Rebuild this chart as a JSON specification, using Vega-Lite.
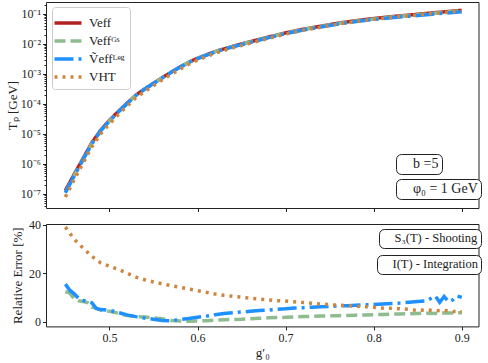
{
 "$schema": "https://vega.github.io/schema/vega-lite/v6.json",
 "padding": {"left": 5, "top": 1, "right": 0, "bottom": 0},
 "background": "white",
 "bounds": "flush",
 "spacing": 16,
 "config": {
  "view": {"stroke": "#222", "strokeWidth": 1},
  "font": "Liberation Serif",
  "axis": {"domain": false, "tickColor": "#222", "labelColor": "#222", "titleColor": "#222", "labelFont": "Liberation Serif", "titleFont": "Liberation Serif", "labelFontSize": 12, "titleFontSize": 13, "titleFontWeight": "normal", "grid": false, "tickSize": 3.5, "labelPadding": 2},
  "legend": {"labelFont": "Liberation Serif", "labelColor": "#222"}
 },
 "datasets": {
  "top": [
   {"g":0.45,"T":1.30e-7,"s":"Veff"},{"g":0.46,"T":4.50e-7,"s":"Veff"},{"g":0.47,"T":1.51e-6,"s":"Veff"},{"g":0.48,"T":5.07e-6,"s":"Veff"},{"g":0.49,"T":1.32e-5,"s":"Veff"},{"g":0.50,"T":2.82e-5,"s":"Veff"},{"g":0.51,"T":5.58e-5,"s":"Veff"},{"g":0.52,"T":1.05e-4,"s":"Veff"},{"g":0.53,"T":1.95e-4,"s":"Veff"},{"g":0.54,"T":3.14e-4,"s":"Veff"},{"g":0.55,"T":4.83e-4,"s":"Veff"},{"g":0.56,"T":7.45e-4,"s":"Veff"},{"g":0.57,"T":1.13e-3,"s":"Veff"},{"g":0.58,"T":1.67e-3,"s":"Veff"},{"g":0.59,"T":2.43e-3,"s":"Veff"},{"g":0.60,"T":3.30e-3,"s":"Veff"},{"g":0.62,"T":5.53e-3,"s":"Veff"},{"g":0.64,"T":8.24e-3,"s":"Veff"},{"g":0.66,"T":1.17e-2,"s":"Veff"},{"g":0.68,"T":1.66e-2,"s":"Veff"},{"g":0.70,"T":2.31e-2,"s":"Veff"},{"g":0.72,"T":3.06e-2,"s":"Veff"},{"g":0.74,"T":3.87e-2,"s":"Veff"},{"g":0.76,"T":4.89e-2,"s":"Veff"},{"g":0.78,"T":5.90e-2,"s":"Veff"},{"g":0.80,"T":6.95e-2,"s":"Veff"},{"g":0.82,"T":8.02e-2,"s":"Veff"},{"g":0.84,"T":9.04e-2,"s":"Veff"},{"g":0.86,"T":1.03e-1,"s":"Veff"},{"g":0.88,"T":1.16e-1,"s":"Veff"},{"g":0.90,"T":1.31e-1,"s":"Veff"},
   {"g":0.45,"T":1.14e-7,"s":"GS"},{"g":0.46,"T":4.07e-7,"s":"GS"},{"g":0.47,"T":1.39e-6,"s":"GS"},{"g":0.48,"T":4.77e-6,"s":"GS"},{"g":0.49,"T":1.26e-5,"s":"GS"},{"g":0.50,"T":2.70e-5,"s":"GS"},{"g":0.51,"T":5.38e-5,"s":"GS"},{"g":0.52,"T":1.02e-4,"s":"GS"},{"g":0.53,"T":1.91e-4,"s":"GS"},{"g":0.54,"T":3.08e-4,"s":"GS"},{"g":0.55,"T":4.75e-4,"s":"GS"},{"g":0.56,"T":7.36e-4,"s":"GS"},{"g":0.57,"T":1.124e-3,"s":"GS"},{"g":0.58,"T":1.665e-3,"s":"GS"},{"g":0.59,"T":2.425e-3,"s":"GS"},{"g":0.60,"T":3.29e-3,"s":"GS"},{"g":0.62,"T":5.50e-3,"s":"GS"},{"g":0.64,"T":8.17e-3,"s":"GS"},{"g":0.66,"T":1.156e-2,"s":"GS"},{"g":0.68,"T":1.633e-2,"s":"GS"},{"g":0.70,"T":2.27e-2,"s":"GS"},{"g":0.72,"T":3.00e-2,"s":"GS"},{"g":0.74,"T":3.78e-2,"s":"GS"},{"g":0.76,"T":4.77e-2,"s":"GS"},{"g":0.78,"T":5.74e-2,"s":"GS"},{"g":0.80,"T":6.75e-2,"s":"GS"},{"g":0.82,"T":7.77e-2,"s":"GS"},{"g":0.84,"T":8.74e-2,"s":"GS"},{"g":0.86,"T":9.94e-2,"s":"GS"},{"g":0.88,"T":1.118e-1,"s":"GS"},{"g":0.90,"T":1.262e-1,"s":"GS"},
   {"g":0.45,"T":1.10e-7,"s":"Leg"},{"g":0.46,"T":3.98e-7,"s":"Leg"},{"g":0.47,"T":1.38e-6,"s":"Leg"},{"g":0.48,"T":4.68e-6,"s":"Leg"},{"g":0.49,"T":1.26e-5,"s":"Leg"},{"g":0.50,"T":2.69e-5,"s":"Leg"},{"g":0.51,"T":5.37e-5,"s":"Leg"},{"g":0.52,"T":1.02e-4,"s":"Leg"},{"g":0.53,"T":1.91e-4,"s":"Leg"},{"g":0.54,"T":3.09e-4,"s":"Leg"},{"g":0.55,"T":4.79e-4,"s":"Leg"},{"g":0.56,"T":7.41e-4,"s":"Leg"},{"g":0.57,"T":1.12e-3,"s":"Leg"},{"g":0.58,"T":1.66e-3,"s":"Leg"},{"g":0.59,"T":2.40e-3,"s":"Leg"},{"g":0.60,"T":3.24e-3,"s":"Leg"},{"g":0.62,"T":5.37e-3,"s":"Leg"},{"g":0.64,"T":7.94e-3,"s":"Leg"},{"g":0.66,"T":1.12e-2,"s":"Leg"},{"g":0.68,"T":1.58e-2,"s":"Leg"},{"g":0.70,"T":2.19e-2,"s":"Leg"},{"g":0.72,"T":2.88e-2,"s":"Leg"},{"g":0.74,"T":3.63e-2,"s":"Leg"},{"g":0.76,"T":4.57e-2,"s":"Leg"},{"g":0.78,"T":5.50e-2,"s":"Leg"},{"g":0.80,"T":6.46e-2,"s":"Leg"},{"g":0.82,"T":7.41e-2,"s":"Leg"},{"g":0.84,"T":8.32e-2,"s":"Leg"},{"g":0.86,"T":9.33e-2,"s":"Leg"},{"g":0.88,"T":1.047e-1,"s":"Leg"},{"g":0.90,"T":1.175e-1,"s":"Leg"},
   {"g":0.45,"T":7.93e-8,"s":"HT"},{"g":0.46,"T":2.97e-7,"s":"HT"},{"g":0.47,"T":1.05e-6,"s":"HT"},{"g":0.48,"T":3.70e-6,"s":"HT"},{"g":0.49,"T":9.99e-6,"s":"HT"},{"g":0.50,"T":2.17e-5,"s":"HT"},{"g":0.51,"T":4.37e-5,"s":"HT"},{"g":0.52,"T":8.40e-5,"s":"HT"},{"g":0.53,"T":1.59e-4,"s":"HT"},{"g":0.54,"T":2.60e-4,"s":"HT"},{"g":0.55,"T":4.04e-4,"s":"HT"},{"g":0.56,"T":6.29e-4,"s":"HT"},{"g":0.57,"T":9.62e-4,"s":"HT"},{"g":0.58,"T":1.433e-3,"s":"HT"},{"g":0.59,"T":2.10e-3,"s":"HT"},{"g":0.60,"T":2.88e-3,"s":"HT"},{"g":0.62,"T":4.90e-3,"s":"HT"},{"g":0.64,"T":7.37e-3,"s":"HT"},{"g":0.66,"T":1.057e-2,"s":"HT"},{"g":0.68,"T":1.511e-2,"s":"HT"},{"g":0.70,"T":2.11e-2,"s":"HT"},{"g":0.72,"T":2.82e-2,"s":"HT"},{"g":0.74,"T":3.59e-2,"s":"HT"},{"g":0.76,"T":4.56e-2,"s":"HT"},{"g":0.78,"T":5.52e-2,"s":"HT"},{"g":0.80,"T":6.53e-2,"s":"HT"},{"g":0.82,"T":7.58e-2,"s":"HT"},{"g":0.84,"T":8.58e-2,"s":"HT"},{"g":0.86,"T":9.80e-2,"s":"HT"},{"g":0.88,"T":1.105e-1,"s":"HT"},{"g":0.90,"T":1.256e-1,"s":"HT"}
  ],
  "err": [
   {"g":0.45,"e":12.4,"s":"GS"},{"g":0.455,"e":11.8,"s":"GS"},{"g":0.46,"e":9.5,"s":"GS"},{"g":0.465,"e":8.6,"s":"GS"},{"g":0.47,"e":8.3,"s":"GS"},{"g":0.475,"e":7.9,"s":"GS"},{"g":0.48,"e":6.0,"s":"GS"},{"g":0.485,"e":5.6,"s":"GS"},{"g":0.49,"e":4.8,"s":"GS"},{"g":0.50,"e":4.3,"s":"GS"},{"g":0.51,"e":3.5,"s":"GS"},{"g":0.52,"e":2.5,"s":"GS"},{"g":0.53,"e":2.1,"s":"GS"},{"g":0.54,"e":1.9,"s":"GS"},{"g":0.55,"e":1.6,"s":"GS"},{"g":0.56,"e":1.2,"s":"GS"},{"g":0.57,"e":0.5,"s":"GS"},{"g":0.58,"e":0.3,"s":"GS"},{"g":0.59,"e":0.2,"s":"GS"},{"g":0.60,"e":0.3,"s":"GS"},{"g":0.61,"e":0.4,"s":"GS"},{"g":0.62,"e":0.6,"s":"GS"},{"g":0.63,"e":0.8,"s":"GS"},{"g":0.64,"e":0.9,"s":"GS"},{"g":0.65,"e":1.0,"s":"GS"},{"g":0.66,"e":1.2,"s":"GS"},{"g":0.67,"e":1.4,"s":"GS"},{"g":0.68,"e":1.6,"s":"GS"},{"g":0.69,"e":1.7,"s":"GS"},{"g":0.70,"e":1.8,"s":"GS"},{"g":0.71,"e":2.0,"s":"GS"},{"g":0.72,"e":2.1,"s":"GS"},{"g":0.73,"e":2.2,"s":"GS"},{"g":0.74,"e":2.3,"s":"GS"},{"g":0.75,"e":2.4,"s":"GS"},{"g":0.76,"e":2.5,"s":"GS"},{"g":0.77,"e":2.6,"s":"GS"},{"g":0.78,"e":2.7,"s":"GS"},{"g":0.79,"e":2.8,"s":"GS"},{"g":0.80,"e":2.9,"s":"GS"},{"g":0.81,"e":3.0,"s":"GS"},{"g":0.82,"e":3.1,"s":"GS"},{"g":0.83,"e":3.2,"s":"GS"},{"g":0.84,"e":3.3,"s":"GS"},{"g":0.85,"e":3.4,"s":"GS"},{"g":0.86,"e":3.5,"s":"GS"},{"g":0.87,"e":3.4,"s":"GS"},{"g":0.88,"e":3.6,"s":"GS"},{"g":0.89,"e":3.6,"s":"GS"},{"g":0.90,"e":3.7,"s":"GS"},
   {"g":0.45,"e":15.5,"s":"Leg"},{"g":0.455,"e":13.0,"s":"Leg"},{"g":0.46,"e":11.5,"s":"Leg"},{"g":0.465,"e":9.6,"s":"Leg"},{"g":0.47,"e":8.8,"s":"Leg"},{"g":0.475,"e":8.4,"s":"Leg"},{"g":0.48,"e":7.8,"s":"Leg"},{"g":0.485,"e":5.5,"s":"Leg"},{"g":0.49,"e":5.0,"s":"Leg"},{"g":0.50,"e":4.7,"s":"Leg"},{"g":0.51,"e":3.8,"s":"Leg"},{"g":0.52,"e":2.8,"s":"Leg"},{"g":0.53,"e":2.1,"s":"Leg"},{"g":0.54,"e":1.5,"s":"Leg"},{"g":0.55,"e":1.0,"s":"Leg"},{"g":0.56,"e":0.5,"s":"Leg"},{"g":0.57,"e":0.4,"s":"Leg"},{"g":0.58,"e":0.9,"s":"Leg"},{"g":0.59,"e":1.3,"s":"Leg"},{"g":0.60,"e":1.8,"s":"Leg"},{"g":0.61,"e":2.3,"s":"Leg"},{"g":0.62,"e":2.9,"s":"Leg"},{"g":0.63,"e":3.4,"s":"Leg"},{"g":0.64,"e":3.7,"s":"Leg"},{"g":0.65,"e":4.0,"s":"Leg"},{"g":0.66,"e":4.3,"s":"Leg"},{"g":0.67,"e":4.6,"s":"Leg"},{"g":0.68,"e":4.8,"s":"Leg"},{"g":0.69,"e":5.1,"s":"Leg"},{"g":0.70,"e":5.3,"s":"Leg"},{"g":0.71,"e":5.6,"s":"Leg"},{"g":0.72,"e":5.8,"s":"Leg"},{"g":0.73,"e":6.0,"s":"Leg"},{"g":0.74,"e":6.2,"s":"Leg"},{"g":0.75,"e":6.3,"s":"Leg"},{"g":0.76,"e":6.5,"s":"Leg"},{"g":0.77,"e":6.6,"s":"Leg"},{"g":0.78,"e":6.8,"s":"Leg"},{"g":0.79,"e":7.0,"s":"Leg"},{"g":0.80,"e":7.1,"s":"Leg"},{"g":0.81,"e":7.3,"s":"Leg"},{"g":0.82,"e":7.5,"s":"Leg"},{"g":0.83,"e":7.7,"s":"Leg"},{"g":0.84,"e":8.0,"s":"Leg"},{"g":0.85,"e":8.3,"s":"Leg"},{"g":0.86,"e":8.6,"s":"Leg"},{"g":0.87,"e":10.6,"s":"Leg"},{"g":0.875,"e":8.0,"s":"Leg"},{"g":0.88,"e":10.4,"s":"Leg"},{"g":0.885,"e":8.2,"s":"Leg"},{"g":0.89,"e":9.0,"s":"Leg"},{"g":0.895,"e":10.6,"s":"Leg"},{"g":0.90,"e":10.0,"s":"Leg"},
   {"g":0.45,"e":39.0,"s":"HT"},{"g":0.46,"e":34.0,"s":"HT"},{"g":0.47,"e":30.4,"s":"HT"},{"g":0.48,"e":27.0,"s":"HT"},{"g":0.49,"e":24.3,"s":"HT"},{"g":0.50,"e":22.9,"s":"HT"},{"g":0.51,"e":21.6,"s":"HT"},{"g":0.52,"e":20.0,"s":"HT"},{"g":0.53,"e":18.4,"s":"HT"},{"g":0.54,"e":17.3,"s":"HT"},{"g":0.55,"e":16.4,"s":"HT"},{"g":0.56,"e":15.6,"s":"HT"},{"g":0.57,"e":14.9,"s":"HT"},{"g":0.58,"e":14.2,"s":"HT"},{"g":0.59,"e":13.5,"s":"HT"},{"g":0.60,"e":12.8,"s":"HT"},{"g":0.61,"e":12.1,"s":"HT"},{"g":0.62,"e":11.4,"s":"HT"},{"g":0.63,"e":10.9,"s":"HT"},{"g":0.64,"e":10.5,"s":"HT"},{"g":0.65,"e":10.1,"s":"HT"},{"g":0.66,"e":9.7,"s":"HT"},{"g":0.67,"e":9.3,"s":"HT"},{"g":0.68,"e":9.0,"s":"HT"},{"g":0.69,"e":8.7,"s":"HT"},{"g":0.70,"e":8.5,"s":"HT"},{"g":0.71,"e":8.2,"s":"HT"},{"g":0.72,"e":7.9,"s":"HT"},{"g":0.73,"e":7.6,"s":"HT"},{"g":0.74,"e":7.3,"s":"HT"},{"g":0.75,"e":7.0,"s":"HT"},{"g":0.76,"e":6.8,"s":"HT"},{"g":0.77,"e":6.6,"s":"HT"},{"g":0.78,"e":6.4,"s":"HT"},{"g":0.79,"e":6.2,"s":"HT"},{"g":0.80,"e":6.0,"s":"HT"},{"g":0.81,"e":5.6,"s":"HT"},{"g":0.82,"e":5.5,"s":"HT"},{"g":0.83,"e":5.3,"s":"HT"},{"g":0.84,"e":5.1,"s":"HT"},{"g":0.85,"e":4.6,"s":"HT"},{"g":0.86,"e":4.9,"s":"HT"},{"g":0.87,"e":4.5,"s":"HT"},{"g":0.88,"e":4.7,"s":"HT"},{"g":0.89,"e":4.2,"s":"HT"},{"g":0.90,"e":4.1,"s":"HT"}
  ]
 },
 "vconcat": [
  {
   "width": 432.5,
   "height": 206,
   "layer": [
    {
     "data": {"name": "top"},
     "mark": {"type": "line", "strokeWidth": 3.5, "clip": true},
     "encoding": {
      "x": {"field": "g", "type": "quantitative", "scale": {"domain": [0.428, 0.919], "nice": false, "zero": false}, "axis": {"values": [0.5, 0.6, 0.7, 0.8, 0.9], "labels": false, "title": null}},
      "y": {"field": "T", "type": "quantitative", "scale": {"type": "log", "domain": [3.41e-8, 0.247], "nice": false},
       "axis": {"title": "Tₚ [GeV]", "titlePadding": 1,
        "values": [4e-8,5e-8,6e-8,7e-8,8e-8,9e-8,1e-7,2e-7,3e-7,4e-7,5e-7,6e-7,7e-7,8e-7,9e-7,1e-6,2e-6,3e-6,4e-6,5e-6,6e-6,7e-6,8e-6,9e-6,1e-5,2e-5,3e-5,4e-5,5e-5,6e-5,7e-5,8e-5,9e-5,1e-4,2e-4,3e-4,4e-4,5e-4,6e-4,7e-4,8e-4,9e-4,1e-3,2e-3,3e-3,4e-3,5e-3,6e-3,7e-3,8e-3,9e-3,1e-2,2e-2,3e-2,4e-2,5e-2,6e-2,7e-2,8e-2,9e-2,1e-1,2e-1],
        "labelExpr": "abs(log(datum.value)/LN10 - round(log(datum.value)/LN10)) < 0.01 ? '10⁻' + ['⁰','¹','²','³','⁴','⁵','⁶','⁷','⁸','⁹'][-round(log(datum.value)/LN10)] : ''",
        "tickSize": {"condition": {"test": "abs(log(datum.value)/LN10 - round(log(datum.value)/LN10)) < 0.01", "value": 3.5}, "value": 2}}},
      "color": {"field": "s", "type": "nominal", "scale": {"domain": ["Veff", "GS", "Leg", "HT"], "range": ["#b22222", "#8fbc8f", "#1e90ff", "#cd853f"]},
       "legend": {"title": null, "orient": "none", "legendX": 6, "legendY": 5, "fillColor": "white", "strokeColor": "#cccccc", "cornerRadius": 3, "padding": 5, "symbolType": "M-1.5,0H1.5", "symbolSize": 324, "symbolStrokeWidth": 3.5, "labelFontSize": 13, "labelOffset": 10, "rowPadding": 0,
        "labelExpr": "datum.label == 'Veff' ? 'Veff' : datum.label == 'GS' ? 'Veffᴳˢ' : datum.label == 'Leg' ? 'Ṽeffᴸᵉᵍ' : 'VHT'"}},
      "strokeDash": {"field": "s", "type": "nominal", "scale": {"domain": ["Veff", "GS", "Leg", "HT"], "range": [[1, 0], [11, 5], [19, 5, 3, 5], [3, 5]]},
       "legend": {"title": null, "orient": "none", "legendX": 6, "legendY": 5, "fillColor": "white", "strokeColor": "#cccccc", "cornerRadius": 3, "padding": 5, "symbolType": "M-1.5,0H1.5", "symbolSize": 324, "symbolStrokeWidth": 3.5, "labelFontSize": 13, "labelOffset": 10, "rowPadding": 0,
        "labelExpr": "datum.label == 'Veff' ? 'Veff' : datum.label == 'GS' ? 'Veffᴳˢ' : datum.label == 'Leg' ? 'Ṽeffᴸᵉᵍ' : 'VHT'"}}
     }
    },
    {
     "data": {"values": [{"a": "b =5", "c": "φ₀ = 1 GeV"}]},
     "mark": {"type": "point", "opacity": 0},
     "encoding": {
      "fill": {"field": "a", "type": "nominal", "legend": {"title": null, "orient": "none", "legendX": 350, "legendY": 152, "fillColor": "white", "strokeColor": "#222", "cornerRadius": 5, "padding": 3, "symbolSize": 0, "symbolOpacity": 0, "symbolStrokeWidth": 0, "labelOffset": 0, "labelFontSize": 14}},
      "shape": {"field": "c", "type": "nominal", "legend": {"title": null, "orient": "none", "legendX": 350, "legendY": 177, "fillColor": "white", "strokeColor": "#222", "cornerRadius": 5, "padding": 3, "symbolSize": 0, "symbolOpacity": 0, "symbolStrokeWidth": 0, "labelOffset": 0, "labelFontSize": 14}}
     }
    }
   ]
  },
  {
   "width": 432.5,
   "height": 102.4,
   "layer": [
    {
     "data": {"name": "err"},
     "mark": {"type": "line", "strokeWidth": 3.5, "clip": true},
     "encoding": {
      "x": {"field": "g", "type": "quantitative", "scale": {"domain": [0.428, 0.919], "nice": false, "zero": false}, "axis": {"values": [0.5, 0.6, 0.7, 0.8, 0.9], "format": ".1f", "title": "g′₀", "titlePadding": 3, "labelPadding": 3}},
      "y": {"field": "e", "type": "quantitative", "scale": {"domain": [-1.94, 40.3], "nice": false, "zero": false}, "axis": {"values": [0, 20, 40], "title": "Relative Error [%]", "titlePadding": 4}},
      "color": {"field": "s", "type": "nominal", "scale": {"domain": ["Veff", "GS", "Leg", "HT"], "range": ["#b22222", "#8fbc8f", "#1e90ff", "#cd853f"]}, "legend": null},
      "strokeDash": {"field": "s", "type": "nominal", "scale": {"domain": ["Veff", "GS", "Leg", "HT"], "range": [[1, 0], [11, 5], [19, 5, 3, 5], [3, 5]]}, "legend": null}
     }
    },
    {
     "data": {"values": [{"a": "S₃(T) - Shooting", "c": "I(T) - Integration"}]},
     "mark": {"type": "point", "opacity": 0},
     "encoding": {
      "fill": {"field": "a", "type": "nominal", "legend": {"title": null, "orient": "none", "legendX": 333, "legendY": 5, "fillColor": "white", "strokeColor": "#222", "cornerRadius": 5, "padding": 3, "symbolSize": 0, "symbolOpacity": 0, "symbolStrokeWidth": 0, "labelOffset": 0, "labelFontSize": 12.5}},
      "shape": {"field": "c", "type": "nominal", "legend": {"title": null, "orient": "none", "legendX": 331, "legendY": 31, "fillColor": "white", "strokeColor": "#222", "cornerRadius": 5, "padding": 3, "symbolSize": 0, "symbolOpacity": 0, "symbolStrokeWidth": 0, "labelOffset": 0, "labelFontSize": 12.5}}
     }
    }
   ]
  }
 ],
 "resolve": {
  "scale": {"x": "independent", "y": "independent", "color": "independent", "strokeDash": "independent", "fill": "independent", "shape": "independent"},
  "legend": {"color": "independent", "strokeDash": "independent", "fill": "independent", "shape": "independent"}
 }
}
